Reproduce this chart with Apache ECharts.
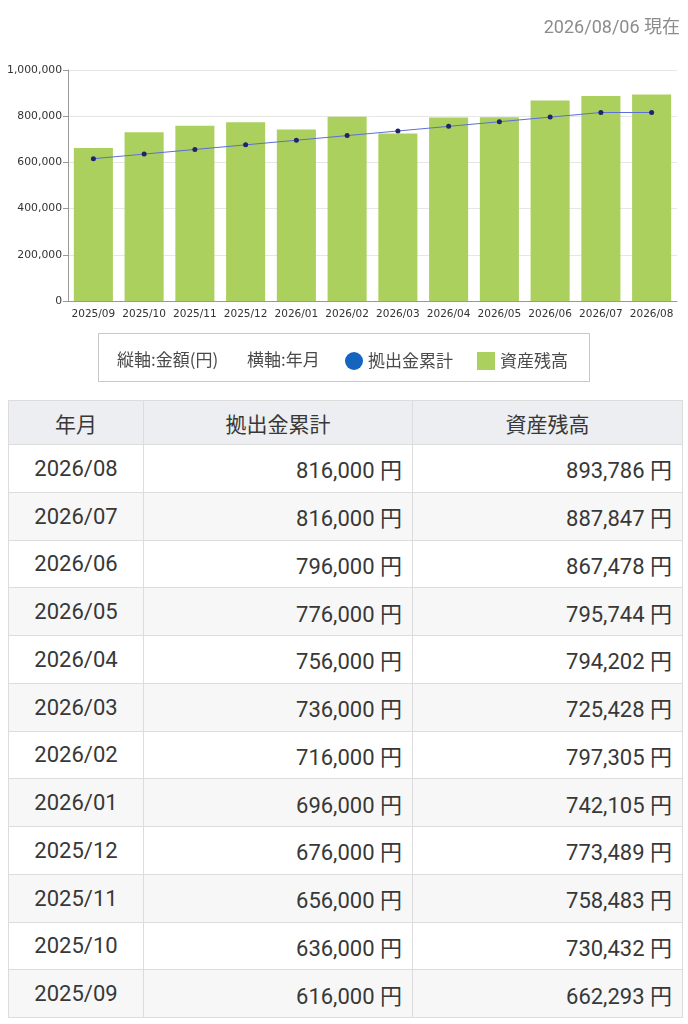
<!DOCTYPE html>
<html>
<head>
<meta charset="utf-8">
<script src="https://cdn.jsdelivr.net/npm/echarts@6/dist/echarts.min.js"></script>
<style>
  html, body { margin: 0; padding: 0; background: #fff; }
  body { width: 688px; height: 1024px; position: relative; overflow: hidden;
         font-family: Roboto, "Noto Sans CJK JP", sans-serif; }
  #chart { position: absolute; left: 0; top: 0; width: 688px; height: 392px; }
  #tbl { position: absolute; left: 8px; top: 400px; width: 674px; table-layout: fixed;
         border-collapse: collapse; color: #383838; font-size: 22px; }
  #tbl th, #tbl td { border: 1px solid #dcdcdc; padding: 0 10px; }
  #tbl th { background: #eceef1; font-weight: normal; font-size: 21px; height: 43px; text-align: center; }
  #tbl td { height: 46.75px; text-align: right; }
  #tbl td.ym { text-align: center; }
  #tbl tr:nth-child(odd) td { background: #f7f7f7; }
</style>
</head>
<body>
<div id="chart"></div>
<table id="tbl">
  <colgroup><col style="width:135px"><col style="width:269px"><col style="width:270px"></colgroup>
  <tbody id="tbody"></tbody>
</table>
<script>
// ---- データ ----
var months = ['2025/09','2025/10','2025/11','2025/12','2026/01','2026/02',
              '2026/03','2026/04','2026/05','2026/06','2026/07','2026/08'];
var contribution = [616000,636000,656000,676000,696000,716000,
                    736000,756000,776000,796000,816000,816000];
var balance = [662293,730432,758483,773489,742105,797305,
               725428,794202,795744,867478,887847,893786];
var headers = ['年月', '拠出金累計', '資産残高'];
var asOf = '2026/08/06 現在';

function fmt(v) { return v.toLocaleString('en-US'); }

var jp = '"Noto Sans CJK JP"';

// ---- グラフ ----
var chart = echarts.init(document.getElementById('chart'));
chart.setOption({
  animation: false,
  title: {
    text: asOf, right: 3, top: 15,
    textStyle: { color: '#8c8c8c', fontSize: 18, fontWeight: 'normal',
                 fontFamily: 'Roboto, "Noto Sans CJK JP"' }
  },
  grid: { left: 68, right: 11, top: 70, bottom: 91 },
  xAxis: {
    type: 'category', data: months,
    axisLine: { lineStyle: { color: '#999' } },
    axisTick: { show: false },
    axisLabel: { color: '#333', fontSize: 10.5, margin: 8, interval: 0,
                 fontFamily: 'Verdana, "DejaVu Sans"' }
  },
  yAxis: {
    type: 'value', min: 0, max: 1000000, interval: 200000,
    axisLine: { show: true, lineStyle: { color: '#999' } },
    axisTick: { show: true, length: 5, lineStyle: { color: '#999' } },
    splitLine: { lineStyle: { color: '#e6e6e6' } },
    axisLabel: { color: '#333', fontSize: 10.8, margin: 6,
                 fontFamily: 'Verdana, "DejaVu Sans"', formatter: fmt }
  },
  legend: {
    left: 340, top: 347, itemWidth: 18, itemHeight: 18, itemGap: 24,
    textStyle: { color: '#4a4a4a', fontSize: 17, fontFamily: jp },
    data: [
      { name: '拠出金累計', icon: 'circle', itemStyle: { color: '#1565c0' } },
      { name: '資産残高', icon: 'rect', itemStyle: { color: '#acd05e' } }
    ]
  },
  graphic: [
    { type: 'rect', shape: { x: 98.5, y: 333.5, width: 491, height: 48 },
      style: { fill: '#fff', stroke: '#c8c8c8', lineWidth: 1 }, z: -1 },
    { type: 'text', left: 117, top: 351,
      style: { text: '縦軸:金額(円)', fill: '#4a4a4a', fontSize: 17, fontFamily: jp } },
    { type: 'text', left: 247, top: 351,
      style: { text: '横軸:年月', fill: '#4a4a4a', fontSize: 17, fontFamily: jp } }
  ],
  series: [
    {
      name: '資産残高', type: 'bar', data: balance,
      barCategoryGap: '23%',
      itemStyle: { color: '#acd05e' }
    },
    {
      name: '拠出金累計', type: 'line', data: contribution,
      symbol: 'circle', symbolSize: 5,
      lineStyle: { color: '#5b6fd6', width: 1 },
      itemStyle: { color: '#23236b' }
    }
  ]
});

// ---- 表 ----
var html = '<tr>' + headers.map(function (h) { return '<th>' + h + '</th>'; }).join('') + '</tr>';
for (var i = months.length - 1; i >= 0; i--) {
  html += '<tr><td class="ym">' + months[i] + '</td>' +
          '<td>' + fmt(contribution[i]) + ' 円</td>' +
          '<td>' + fmt(balance[i]) + ' 円</td></tr>';
}
document.getElementById('tbody').innerHTML = html;
</script>
</body>
</html>
